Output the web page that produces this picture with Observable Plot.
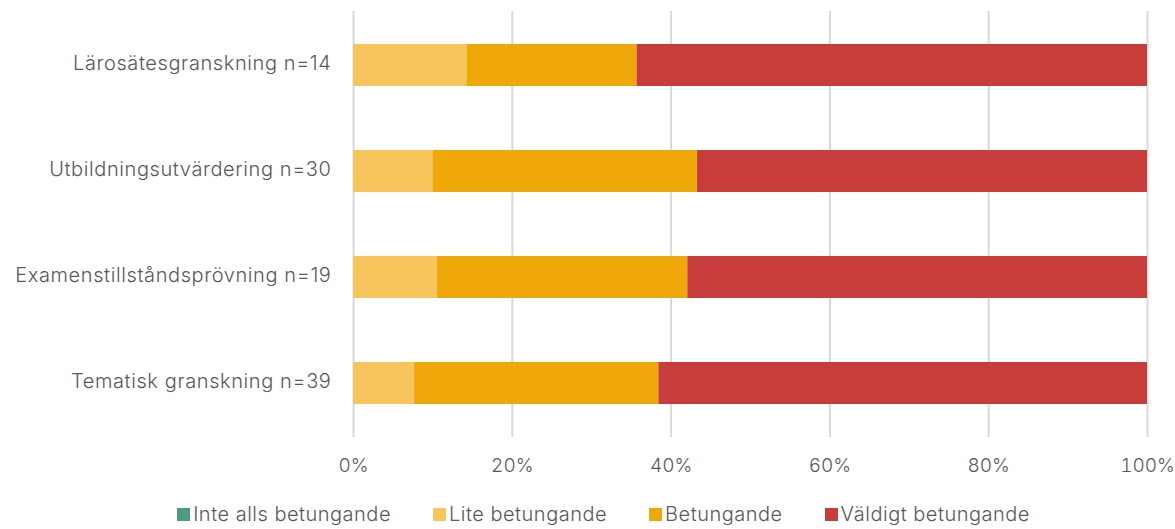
<!DOCTYPE html>
<html>
<head>
<meta charset="utf-8">
<script src="https://cdn.jsdelivr.net/npm/d3@7"></script>
<script src="https://cdn.jsdelivr.net/npm/@observablehq/plot@0.6"></script>
<style>
  html, body { margin: 0; padding: 0; background: #fff; }
  body { width: 1175px; height: 529px; position: relative; overflow: hidden; font-family: Inter, "Noto Sans", sans-serif; }
  #chart svg { display: block; }
  #chart svg text { font-weight: 300; letter-spacing: 0.6px; }
  #chart svg g[aria-label="x-axis tick label"] text { letter-spacing: 0; }
  #legend { position: absolute; left: 0; top: 498px; width: 1143px; padding-left: 32px; display: flex; justify-content: center; height: 32px; align-items: center; color: #595959; font-size: 20px; font-weight: 300; line-height: 32px; letter-spacing: 0.5px; }
  .item { display: flex; align-items: center; margin: 0 21px; }
  .sw { width: 13px; height: 13px; margin-right: 3px; }
</style>
</head>
<body>
<div id="chart"></div>
<div id="legend"></div>
<script>
const categories = ["Lärosätesgranskning n=14", "Utbildningsutvärdering n=30", "Examenstillståndsprövning n=19", "Tematisk granskning n=39"];
const series = ["Inte alls betungande", "Lite betungande", "Betungande", "Väldigt betungande"];
const colors = ["#4a9e7e", "#f7c55c", "#f0a70a", "#c83c3b"];
const inteAlls = [0, 0, 0, 0];
const lite = [2, 3, 2, 3];
const betungande = [3, 10, 6, 12];
const valdigt = [9, 17, 11, 24];

const seriesValues = [inteAlls, lite, betungande, valdigt];
const rows = [];
series.forEach((s, si) => categories.forEach((c, ci) => rows.push({category: c, series: s, value: seriesValues[si][ci]})));

const chart = Plot.plot({
  width: 1175,
  height: 480,
  marginLeft: 353,
  marginRight: 28,
  marginTop: 11,
  marginBottom: 43,
  style: {fontFamily: 'Inter, "Noto Sans", sans-serif', fontSize: "20px", color: "#595959", background: "#fff"},
  x: {domain: [0, 1], ticks: [0, 0.2, 0.4, 0.6, 0.8, 1], tickFormat: d3.format(".0%"), label: null},
  y: {domain: categories, paddingInner: 0.6, paddingOuter: 0.3, label: null},
  color: {domain: series, range: colors},
  marks: [
    Plot.gridX([0, 0.2, 0.4, 0.6, 0.8, 1], {stroke: "#d9d9d9", strokeOpacity: 1, strokeWidth: 2}),
    Plot.barX(rows, Plot.stackX({offset: "normalize", x: "value", y: "category", fill: "series", order: series})),
    Plot.axisX({ticks: [0, 0.2, 0.4, 0.6, 0.8, 1], tickFormat: d3.format(".0%"), tickSize: 0, tickPadding: 21, label: null, fontSize: 19}),
    Plot.axisY({tickSize: 0, tickPadding: 22, dy: -2, label: null, fontSize: 20})
  ]
});
document.getElementById("chart").appendChild(chart);

const legend = document.getElementById("legend");
series.forEach((s, i) => {
  const it = document.createElement("div");
  it.className = "item";
  const sw = document.createElement("span");
  sw.className = "sw";
  sw.style.background = colors[i];
  const t = document.createElement("span");
  t.textContent = s;
  it.appendChild(sw); it.appendChild(t);
  legend.appendChild(it);
});
</script>
</body>
</html>
